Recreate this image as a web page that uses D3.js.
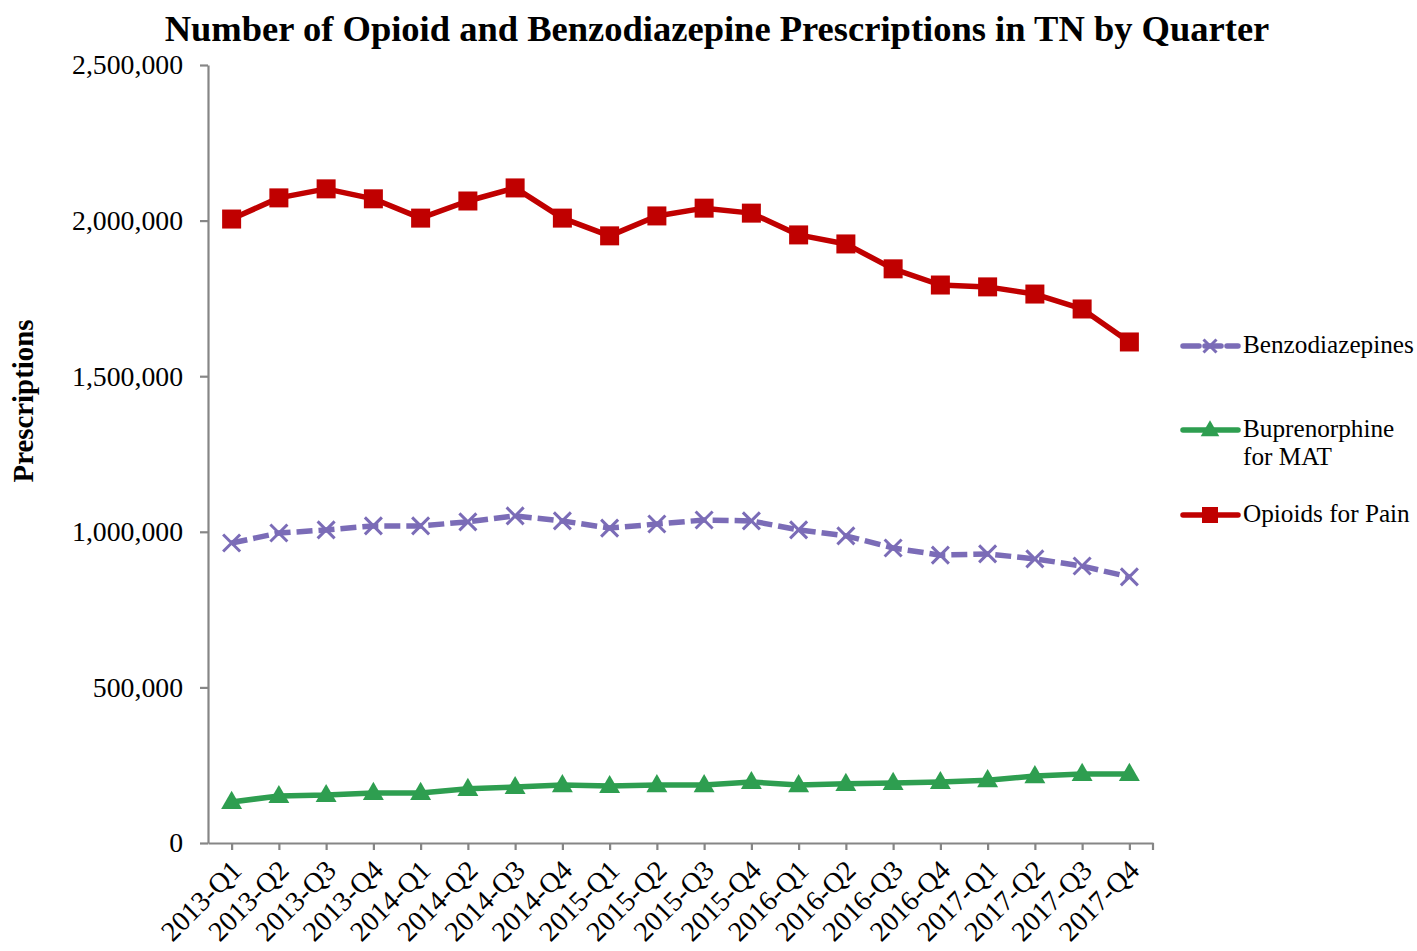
<!DOCTYPE html>
<html><head><meta charset="utf-8">
<script src="https://cdn.jsdelivr.net/npm/d3@7"></script>
<style>body{margin:0;background:#fff}svg{display:block}text{font-family:"Liberation Serif",serif;fill:#000}</style>
</head><body>
<script>
const categories = ["2013-Q1","2013-Q2","2013-Q3","2013-Q4","2014-Q1","2014-Q2","2014-Q3","2014-Q4","2015-Q1","2015-Q2","2015-Q3","2015-Q4","2016-Q1","2016-Q2","2016-Q3","2016-Q4","2017-Q1","2017-Q2","2017-Q3","2017-Q4"];
const opioids = [2005000,2073000,2102000,2070000,2008000,2063000,2105000,2008000,1951000,2015000,2040000,2024000,1954000,1925000,1845000,1793000,1787000,1764000,1716000,1610000];
const benzodiazepines = [964000,996000,1006000,1019000,1019000,1032000,1051000,1035000,1012000,1025000,1038000,1035000,1006000,987000,948000,925000,929000,913000,890000,855000];
const buprenorphine = [132000,151000,154000,161000,161000,174000,180000,186000,183000,186000,186000,196000,186000,190000,193000,196000,202000,215000,222000,222000];
const yTicks = [0,500000,1000000,1500000,2000000,2500000];
const seriesNames = ["Benzodiazepines","Buprenorphine\nfor MAT","Opioids for Pain"];
const titleText = "Number of Opioid and Benzodiazepine Prescriptions in TN by Quarter";
const yTitle = "Prescriptions";

const W=1417,H=951;
const FONT="Liberation Serif";
const svg=d3.select("body").append("svg").attr("width",W).attr("height",H);

function fit(sel,target){const w=sel.node().getComputedTextLength();const fs=parseFloat(sel.attr("font-size"));sel.attr("font-size",fs*target/w);}

const x=d3.scalePoint().domain(categories).range([208,1153]).padding(0.5);
const y=d3.scaleLinear().domain([0,2500000]).range([843,65]);

const gray="#868686";
// y axis
const ya=svg.append("g").attr("transform","translate(208,0)")
  .call(d3.axisLeft(y).tickValues(yTicks).tickFormat(d3.format(",")).tickSize(8).tickSizeOuter(0).tickPadding(17));
ya.select(".domain").attr("stroke",gray).attr("stroke-width",2.2);
ya.selectAll(".tick line").attr("stroke",gray).attr("stroke-width",2.2);
ya.selectAll(".tick text").attr("font-size",22).attr("font-family",FONT).attr("fill","#000");
{const t=ya.selectAll(".tick text").filter(d=>d===2500000);const w=t.node().getComputedTextLength();ya.selectAll(".tick text").attr("font-size",22*111/w);}

// x axis
const xa=svg.append("g").attr("transform","translate(0,843)")
  .call(d3.axisBottom(x).tickSize(7).tickSizeOuter(0));
xa.select(".domain").attr("stroke",gray).attr("stroke-width",2.2);
xa.selectAll(".tick line").attr("stroke",gray).attr("stroke-width",2.2);
xa.selectAll(".tick text").attr("font-size",20).attr("font-family",FONT).attr("fill","#000")
  .attr("text-anchor","end").attr("dy",null).attr("y",0)
  .attr("transform","translate(11,29) rotate(-45)");
{const t=xa.selectAll(".tick text").filter(d=>d==="2013-Q1");const w=t.node().getComputedTextLength();xa.selectAll(".tick text").attr("font-size",20*100/w);}
svg.append("line").attr("x1",1153).attr("x2",1153).attr("y1",843).attr("y2",850).attr("stroke",gray).attr("stroke-width",2.2);

// title
const tt=svg.append("text").attr("x",717).attr("y",41).attr("text-anchor","middle").attr("font-weight","bold").attr("font-size",30).text(titleText);
fit(tt,1105);
const yt=svg.append("text").attr("transform","translate(33,401) rotate(-90)").attr("text-anchor","middle").attr("font-weight","bold").attr("font-size",22).text(yTitle);
fit(yt,163);

const colors={opi:"#C00000",benz:"#7B6CB7",bup:"#2E9E50"};
const line=d3.line().x((d,i)=>x(categories[i])).y(d=>y(d));

// Buprenorphine
svg.append("path").datum(buprenorphine).attr("d",line).attr("fill","none").attr("stroke",colors.bup).attr("stroke-width",5.5).attr("stroke-linejoin","round");
const tri=d3.symbol().type(d3.symbolTriangle).size(190);
svg.selectAll(".tri").data(buprenorphine).join("path").attr("d",tri)
  .attr("transform",(d,i)=>`translate(${x(categories[i])},${y(d)+1})`).attr("fill",colors.bup);

// Benzodiazepines
svg.append("path").datum(benzodiazepines).attr("d",line).attr("fill","none").attr("stroke",colors.benz).attr("stroke-width",5.5).attr("stroke-dasharray","16,6");
const crossPath=s=>`M${-s},${-s}L${s},${s}M${-s},${s}L${s},${-s}`;
svg.selectAll(".xm").data(benzodiazepines).join("path").attr("d",crossPath(8.5))
  .attr("transform",(d,i)=>`translate(${x(categories[i])},${y(d)})`).attr("stroke",colors.benz).attr("stroke-width",3).attr("fill","none");

// Opioids
svg.append("path").datum(opioids).attr("d",line).attr("fill","none").attr("stroke",colors.opi).attr("stroke-width",5.5).attr("stroke-linejoin","round");
svg.selectAll(".sq").data(opioids).join("rect").attr("x",(d,i)=>x(categories[i])-9.5).attr("y",d=>y(d)-9.5)
  .attr("width",19).attr("height",19).attr("fill",colors.opi);

// legend
const lg=svg.append("g");
const legY=[346,430,515];
const lx0=1183,lx1=1238,lc=1210;
lg.append("line").attr("x1",lx0).attr("x2",lx1).attr("y1",legY[0]).attr("y2",legY[0]).attr("stroke",colors.benz).attr("stroke-width",5.5).attr("stroke-dasharray","16,6").attr("stroke-linecap","round");
lg.append("path").attr("d",crossPath(6.5)).attr("transform",`translate(${lc},${legY[0]})`).attr("stroke",colors.benz).attr("stroke-width",3);
lg.append("line").attr("x1",lx0).attr("x2",lx1).attr("y1",legY[1]).attr("y2",legY[1]).attr("stroke",colors.bup).attr("stroke-width",5.5).attr("stroke-linecap","round");
lg.append("path").attr("d",d3.symbol().type(d3.symbolTriangle).size(150)).attr("transform",`translate(${lc},${legY[1]+1})`).attr("fill",colors.bup);
lg.append("line").attr("x1",lx0).attr("x2",lx1).attr("y1",legY[2]).attr("y2",legY[2]).attr("stroke",colors.opi).attr("stroke-width",5.5).attr("stroke-linecap","round");
lg.append("rect").attr("x",lc-8).attr("y",legY[2]-8).attr("width",16).attr("height",16).attr("fill",colors.opi);

const lt=[];
seriesNames.forEach((n,k)=>{
  const t=lg.append("text").attr("x",1243).attr("y",legY[k]+7).attr("font-size",20);
  n.split("\n").forEach((s,j)=>t.append("tspan").attr("x",1243).attr("dy",j?28:0).text(s));
  lt.push(t);
});
{const w=lt[0].node().getComputedTextLength();const fs=20*171/w;lt.forEach(t=>t.attr("font-size",fs));}
</script>
</body></html>
